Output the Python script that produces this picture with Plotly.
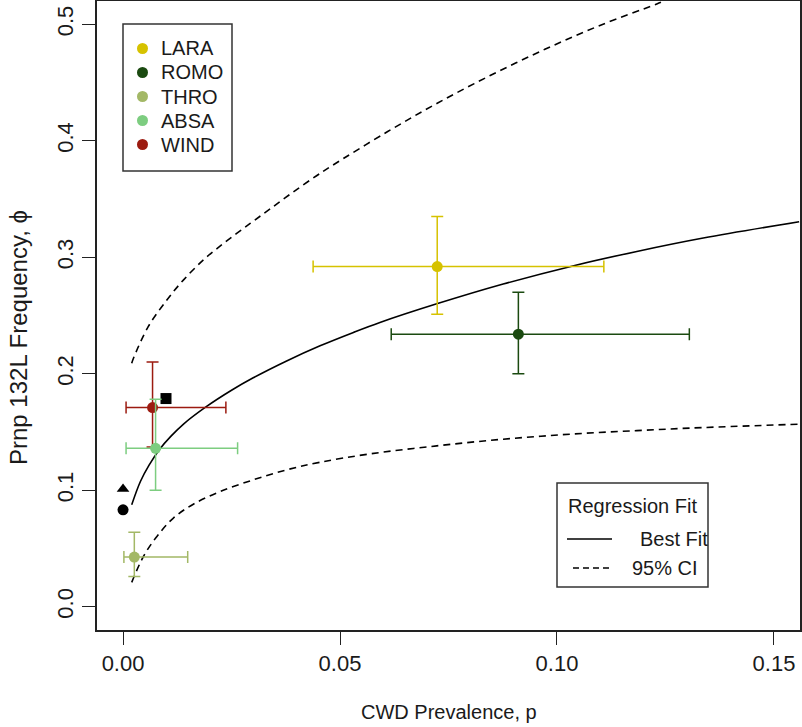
import plotly.graph_objects as go

# ---- data ----
sites = ["LARA", "ROMO", "THRO", "ABSA", "WIND"]
site_colors = ["#D6C200", "#1B4A10", "#A3B866", "#7DCD80", "#9C1B10"]
prevalence = [0.0724, 0.0911, 0.0026, 0.0075, 0.0068]
prevalence_lo = [0.0438, 0.0618, 0.0002, 0.0007, 0.0007]
prevalence_hi = [0.1108, 0.1305, 0.0149, 0.0264, 0.0237]
frequency = [0.292, 0.234, 0.0426, 0.136, 0.171]
frequency_lo = [0.251, 0.200, 0.026, 0.100, 0.137]
frequency_hi = [0.335, 0.270, 0.064, 0.178, 0.210]

extra_x = [0.0, 0.0, 0.0099]
extra_y = [0.0832, 0.101, 0.1787]
extra_symbols = ["circle", "triangle-up", "square"]

fit_x = [0.002, 0.004, 0.006, 0.0084, 0.011, 0.014, 0.0191, 0.025, 0.030, 0.0377,
         0.0454, 0.0531, 0.0592, 0.0723, 0.0876, 0.1041, 0.1184, 0.1337, 0.1558]
fit_y = [0.0875, 0.1075, 0.1215, 0.1350, 0.1462, 0.1570, 0.1715, 0.1858, 0.1965, 0.2110,
         0.2240, 0.2355, 0.2440, 0.2600, 0.2770, 0.2930, 0.3050, 0.3165, 0.3305]

upper_x = [0.0020, 0.0024, 0.0058, 0.0101, 0.0139, 0.0189, 0.0239, 0.0293, 0.0339, 0.0392,
           0.0446, 0.0481, 0.0608, 0.0723, 0.0846, 0.0972, 0.1099, 0.1230, 0.1262]
upper_y = [0.2090, 0.2133, 0.2404, 0.2633, 0.2804, 0.2990, 0.3140, 0.3290, 0.3415, 0.3560,
           0.3700, 0.3785, 0.4075, 0.4320, 0.4560, 0.4785, 0.4990, 0.5175, 0.5225]

lower_x = [0.0020, 0.0047, 0.0078, 0.0116, 0.0162, 0.0224, 0.0300, 0.0377, 0.0454, 0.0569,
           0.0723, 0.0876, 0.1030, 0.1184, 0.1337, 0.1560]
lower_y = [0.0209, 0.0431, 0.0603, 0.0761, 0.0880, 0.0989, 0.1089, 0.1175, 0.1240, 0.1312,
           0.1381, 0.1438, 0.1481, 0.1512, 0.1538, 0.1567]

x_ticks = [0.0, 0.05, 0.10, 0.15]
x_ticktext = ["0.00", "0.05", "0.10", "0.15"]
y_ticks = [0.0, 0.1, 0.2, 0.3, 0.4, 0.5]
y_ticktext = ["0.0", "0.1", "0.2", "0.3", "0.4", "0.5"]

fit_legend_title = "Regression Fit"
fit_legend_labels = ["Best Fit", "95% CI"]

FONT = "Liberation Sans, Arial, Helvetica, sans-serif"
TXT = "#1a1a1a"
W, H = 802, 727
ML, MR, MT, MB = 97, 2, 1, 97
PW, PH = W - ML - MR, H - MT - MB


def px(xp):
    return (xp - ML) / PW


def py(yp):
    return (H - MB - yp) / PH


fig = go.Figure()

# regression curves
fig.add_trace(go.Scatter(x=fit_x, y=fit_y, mode="lines", name="Best Fit",
                         line=dict(color="black", width=1.6, shape="spline"),
                         showlegend=False))
for cx, cy in ((upper_x, upper_y), (lower_x, lower_y)):
    fig.add_trace(go.Scatter(x=cx, y=cy, mode="lines", name="95% CI",
                             line=dict(color="black", width=1.6, dash="7px,5px",
                                       shape="spline"),
                             showlegend=False))

# black reference points
for xv, yv, sym in zip(extra_x, extra_y, extra_symbols):
    fig.add_trace(go.Scatter(x=[xv], y=[yv], mode="markers", showlegend=False,
                             marker=dict(color="black", size=11, symbol=sym),
                             cliponaxis=False))

# site points with error bars
order = [0, 1, 2, 4, 3]
for i in order:
    fig.add_trace(go.Scatter(
        x=[prevalence[i]], y=[frequency[i]], mode="markers", name=sites[i],
        showlegend=False,
        marker=dict(color=site_colors[i], size=11),
        error_x=dict(type="data", symmetric=False,
                     array=[prevalence_hi[i] - prevalence[i]],
                     arrayminus=[prevalence[i] - prevalence_lo[i]],
                     color=site_colors[i], thickness=1.5, width=6),
        error_y=dict(type="data", symmetric=False,
                     array=[frequency_hi[i] - frequency[i]],
                     arrayminus=[frequency[i] - frequency_lo[i]],
                     color=site_colors[i], thickness=1.5, width=6)))

shapes = []
annotations = []

# --- site legend (top-left) ---
shapes.append(dict(type="rect", xref="paper", yref="paper",
                   x0=px(123), x1=px(232), y0=py(24), y1=py(171),
                   line=dict(color="#333", width=1.5), fillcolor="white", layer="above"))
row_y = [48.5, 72.5, 96.5, 120.5, 144.5]
r = 5.5
for name, col, ry in zip(sites, site_colors, row_y):
    shapes.append(dict(type="circle", xref="paper", yref="paper",
                       x0=px(142.5 - r), x1=px(142.5 + r),
                       y0=py(ry + r), y1=py(ry - r),
                       line=dict(width=0), fillcolor=col, layer="above"))
    annotations.append(dict(text=name, xref="paper", yref="paper",
                            x=px(159), y=py(ry), xanchor="left", yanchor="middle",
                            showarrow=False, font=dict(family=FONT, size=20, color=TXT)))

# --- regression legend (bottom-right) ---
shapes.append(dict(type="rect", xref="paper", yref="paper",
                   x0=px(557), x1=px(708), y0=py(483), y1=py(587),
                   line=dict(color="#333", width=1.5), fillcolor="white", layer="above"))
annotations.append(dict(text=fit_legend_title, xref="paper", yref="paper",
                        x=px(632.5), y=py(506), xanchor="center", yanchor="middle",
                        showarrow=False, font=dict(family=FONT, size=20, color=TXT)))
shapes.append(dict(type="line", xref="paper", yref="paper",
                   x0=px(567), x1=px(612), y0=py(539), y1=py(539),
                   line=dict(color="black", width=1.6), layer="above"))
shapes.append(dict(type="line", xref="paper", yref="paper",
                   x0=px(573), x1=px(612), y0=py(568), y1=py(568),
                   line=dict(color="black", width=1.6, dash="6px,4px"), layer="above"))
annotations.append(dict(text=fit_legend_labels[0], xref="paper", yref="paper",
                        x=px(638), y=py(539), xanchor="left", yanchor="middle",
                        showarrow=False, font=dict(family=FONT, size=20, color=TXT)))
annotations.append(dict(text=fit_legend_labels[1], xref="paper", yref="paper",
                        x=px(630), y=py(568), xanchor="left", yanchor="middle",
                        showarrow=False, font=dict(family=FONT, size=20, color=TXT)))

# --- axis titles ---
annotations.append(dict(text="CWD Prevalence, p", xref="paper", yref="paper",
                        x=px(448.5), y=py(712), xanchor="center", yanchor="middle",
                        showarrow=False, font=dict(family=FONT, size=20, color=TXT)))
annotations.append(dict(text="Prnp 132L Frequency, ϕ", xref="paper", yref="paper",
                        x=px(18), y=py(338), xanchor="center", yanchor="middle",
                        textangle=-90, showarrow=False,
                        font=dict(family=FONT, size=24, color=TXT)))

axis_common = dict(showgrid=False, zeroline=False, showline=True, mirror=True,
                   linecolor="#222", linewidth=1.5, ticks="outside", ticklen=13,
                   tickwidth=1.2, tickcolor="#222", automargin=False,
                   tickfont=dict(family=FONT, size=22, color=TXT))

fig.update_layout(
    width=W, height=H,
    margin=dict(l=ML, r=MR, t=MT, b=MB),
    paper_bgcolor="white", plot_bgcolor="white",
    font=dict(family=FONT, size=20, color=TXT),
    xaxis=dict(range=[-0.006, 0.156], tickvals=x_ticks, ticktext=x_ticktext,
               **axis_common),
    yaxis=dict(range=[-0.02, 0.52], tickvals=y_ticks, ticktext=y_ticktext,
               tickangle=-90, **axis_common),
    shapes=shapes,
    annotations=annotations,
    showlegend=False,
)

fig.write_html("out.html", config={"displayModeBar": False},
               post_script="document.body.style.margin='0px';")
